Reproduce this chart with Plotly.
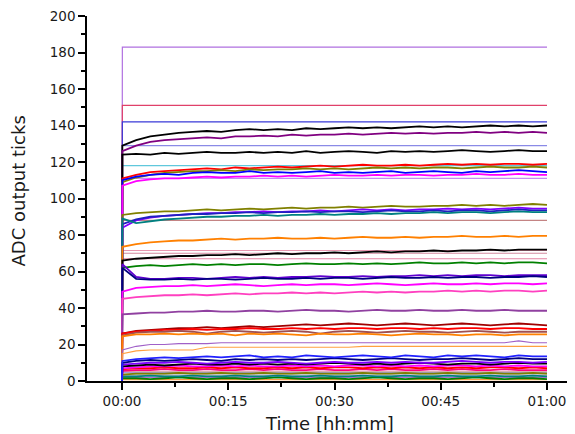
import plotly.graph_objects as go

# ---------------- data ----------------
# time in minutes after start (shared by the noisy series)
T = [0, 0.05] + list(range(2, 61, 2))
T_FLAT = [0, 0.05, 60]

# flat (constant) channels: ADC level
FLAT_LEVELS = [183, 151, 142, 129, 118, 111, 88, 71.5, 70, 67, 5, 4.6, 3.3, 2, 0.8]
FLAT_COLORS = ["#b070e0", "#e0406a", "#3a3ad8", "#8a8ae6", "#60c8dc", "#c48cf4",
               "#c48484", "#e896b0", "#d48aa0", "#e484a4", "#c89898", "#a0a0d8",
               "#909090", "#b070d0", "#ff9a40"]

s_black_top = [0, 129,
               132, 134, 135, 136, 136.5, 137, 136.5, 137.5, 138, 137.5,
               138, 137.5, 138.5, 138, 138.5, 139, 138.5, 139, 138.5, 139,
               139.5, 139, 139.5, 139, 139.5, 140, 139.5, 140, 139.5, 140]
s_purple_top = [0, 126,
                129, 131, 132, 132.5, 133, 133.5, 133, 134, 134, 134.5,
                134, 135, 134.5, 135, 135, 135.5, 135, 135.5, 136, 135.5,
                136, 135.5, 136, 136, 136.5, 136, 136.5, 136, 136.5, 136]
s_black_125 = [0, 124,
               124.5, 124, 125, 124.5, 125, 125.5, 125, 125, 125.5, 125,
               125.5, 125, 126, 125, 125.5, 126, 125.5, 125, 126, 125.5,
               126, 125.5, 126, 126.5, 126, 125.5, 126, 126.5, 126, 126]
s_red_118 = [0, 111,
             113, 114.5, 115, 115.5, 116, 116.5, 116, 117, 116.5, 117,
             117.5, 117, 117.5, 118, 117.5, 118, 118.5, 118, 118, 118.5,
             118, 118.5, 119, 118.5, 119, 118.5, 119, 119, 118.5, 119]
s_olive_117 = [0, 109,
               111.5, 113, 114, 114.5, 115, 115, 115.5, 115, 116, 115.5,
               116, 116, 116.5, 116, 116.5, 116, 116.5, 117, 116.5, 117,
               116.5, 117, 117, 116.5, 117, 117.5, 117, 117, 117.5, 117]
s_blue_114 = [0, 110,
              112, 113, 113.5, 113, 114, 114.5, 114, 114, 115, 114,
              114.5, 114, 114.5, 115, 114, 114.5, 114, 114.5, 115, 114,
              114.5, 115, 114.5, 114, 115, 114.5, 115, 115.5, 115, 114.5]
s_magenta_112 = [0, 107,
                 109.5, 110.5, 111, 111, 111.5, 112, 111.5, 112, 112, 112.5,
                 112, 112.5, 112, 112.5, 113, 112.5, 112.5, 113, 112.5, 113,
                 113, 112.5, 113, 113, 113.5, 113, 113, 113.5, 113, 113]
s_olive_95 = [0, 91,
              92, 92.5, 93, 93, 93.5, 94, 93.5, 94, 94.5, 94,
              94.5, 95, 94.5, 95, 95, 95.5, 95, 95.5, 96, 95.5,
              95.5, 96, 96, 96.5, 96, 96.5, 96, 96.5, 97, 96.5]
s_violet_93 = [0, 84,
               88, 89.5, 90.5, 91, 91.5, 92, 92, 92.5, 92.5, 93,
               92.5, 93, 93, 93.5, 93, 93.5, 94, 93.5, 94, 93.5,
               94, 94, 94.5, 94, 94.5, 94, 94.5, 95, 94.5, 94.5]
s_blue_92 = [0, 86,
             88.5, 90, 90.5, 91, 91.5, 91.5, 92, 92, 92.5, 92,
             92.5, 92.5, 93, 92.5, 93, 93, 92.5, 93, 93.5, 93,
             93, 93.5, 93, 93.5, 93.5, 93, 93.5, 94, 93.5, 93.5]
s_teal_91 = [0, 89,
             86.5, 87.5, 88.5, 89, 89.5, 90, 90, 90.5, 90.5, 91,
             90.5, 91, 91, 91.5, 91, 91.5, 91.5, 92, 91.5, 92,
             92, 92.5, 92, 92.5, 92.5, 92, 92.5, 93, 92.5, 92.5]
s_orange_78 = [0, 73.5,
               75, 76, 76.5, 77, 77, 77.5, 78, 77.5, 78, 78,
               78.5, 78, 78, 78.5, 78, 78.5, 79, 78.5, 78.5, 79,
               78.5, 79, 79, 79.5, 79, 79, 79.5, 79, 79.5, 79.5]
s_black_70 = [0, 66,
              67, 67.5, 68, 68.5, 68.5, 69, 69, 69.5, 69, 69.5,
              70, 69.5, 70, 70, 70.5, 70, 70.5, 71, 70.5, 71,
              71, 71.5, 71, 71.5, 71.5, 72, 71.5, 72, 72, 72]
s_green_64 = [0, 62,
              63, 63.5, 63, 63.5, 64, 63.5, 64, 63.5, 64, 64,
              63.5, 64, 64.5, 64, 64, 64.5, 64, 64.5, 64, 64.5,
              65, 64.5, 64.5, 65, 64.5, 65, 64.5, 65, 65, 64.5]
s_violet_57 = [0, 64,
               57, 56, 56, 56.5, 56.5, 56, 56.5, 57, 56.5, 57,
               56.5, 57, 57, 57.5, 57, 57, 57.5, 57, 57.5, 57.5,
               58, 57.5, 58, 57.5, 58, 58, 57.5, 58, 58, 58]
s_navy_56 = [0, 62,
             56, 55.5, 55.5, 56, 55.5, 56, 56, 55.5, 56, 56.5,
             56, 56, 56.5, 56, 56.5, 56.5, 56, 56.5, 57, 56.5,
             56.5, 57, 56.5, 57, 57, 56.5, 57, 57, 57.5, 57]
s_magenta_53 = [0, 49,
                51, 51.5, 52, 52, 52.5, 52, 52.5, 53, 52.5, 52,
                52.5, 53, 52.5, 53, 53, 52.5, 53, 53.5, 53, 52.5,
                53, 53.5, 53, 53, 53.5, 53, 53.5, 53.5, 53, 53.5]
s_pink_48 = [0, 45,
             46, 46.5, 47, 47, 47.5, 47, 47.5, 48, 47.5, 48,
             48, 48.5, 48, 48.5, 48, 48.5, 49, 48.5, 49, 48.5,
             49, 49, 49.5, 49, 49.5, 49, 49.5, 49.5, 49, 49.5]
s_purple_38 = [0, 36.5,
               37, 37.5, 37.5, 38, 38, 38.5, 38, 38, 38.5, 38.5,
               38, 38.5, 39, 38.5, 38.5, 38, 38.5, 39, 38.5, 38.5,
               39, 38.5, 38.5, 39, 38.5, 38.5, 39, 38.5, 38.5, 38.5]
s_wine_30 = [0, 26,
             27.5, 28, 28.5, 29, 29, 29.5, 29, 29.5, 30, 29.5,
             30, 30.5, 31, 30.5, 31, 31.5, 31, 30.5, 31, 31.5,
             31, 30.5, 31, 31.5, 31, 30.5, 31, 31.5, 31, 30.5]
s_red_28 = [0, 26,
            27, 27.5, 28, 28, 28.5, 28, 28.5, 28.5, 29, 28.5,
            28.5, 29, 28.5, 29, 28.5, 29, 29, 28.5, 29, 29,
            28.5, 29, 28.5, 29, 29, 28.5, 29, 29, 28.5, 28.5]
s_brown_27 = [0, 25,
              26.5, 27, 27, 27.5, 27, 26, 27, 27.5, 27, 26.5,
              27, 27.5, 27, 26, 27, 27.5, 27, 26.5, 27, 27.5,
              27, 27, 26.5, 27, 27.5, 27, 26.5, 27, 27, 27]
s_orange_25 = [0, 24.5,
               25.5, 25.5, 26, 25.5, 26, 25.5, 26, 25, 26, 25.5,
               26, 25.5, 25, 26, 25.5, 25.5, 26, 25.5, 25, 25.5,
               26, 25.5, 25.5, 25, 25.5, 25.5, 25, 25.5, 25.5, 25.5]
s_lavender_21 = [0, 17,
                 19, 20, 20, 20.5, 20.5, 20.5, 21, 21, 21, 21,
                 21, 21, 21, 21, 21, 21, 21, 21, 21, 21,
                 21, 21, 21, 21, 21, 21, 21, 22, 21, 21]
s_orange_19 = [0, 15,
               16.5, 17, 17, 17, 17, 18.5, 18.5, 18.5, 18.5, 18.5,
               18.5, 18.5, 18.5, 18.5, 18.5, 18.5, 19, 19, 19, 19,
               19, 19, 19, 19, 19, 19, 19, 19, 19, 19]
s_blue_13 = [0, 11,
             12, 12.5, 13, 12.5, 13, 13.5, 13, 13.5, 14, 13,
             13.5, 13, 14, 13.5, 13, 13.5, 14, 13.5, 13, 14,
             13.5, 13, 14, 13.5, 14, 13.5, 13, 14, 13.5, 13.5]
s_navy_12 = [0, 10,
             11, 11.5, 11, 11.5, 12, 11.5, 11, 12, 11.5, 12,
             11.5, 12, 11.5, 12, 12.5, 12, 11.5, 12, 12.5, 12,
             11.5, 12, 12, 12.5, 12, 11.5, 12, 12.5, 12, 12]
s_violet_10 = [0, 9,
               9.5, 10, 10, 10.5, 10, 9.5, 10, 10.5, 10, 10,
               10.5, 10, 9.5, 10, 10.5, 10, 10, 10.5, 10, 10.5,
               10, 10, 10.5, 11, 10.5, 10, 10.5, 10.5, 10, 10.5]
s_black_9 = [0, 8,
             8.5, 9, 8.5, 9, 9.5, 9, 9, 9.5, 9, 9.5,
             9, 9.5, 9, 9.5, 10, 9.5, 9, 9.5, 9, 9.5,
             10, 9.5, 9, 9.5, 9.5, 9, 9.5, 10, 9.5, 9.5]
s_magenta_8 = [0, 7,
               7.5, 8, 8, 8.5, 8, 8, 8.5, 8, 8.5, 8,
               8, 8.5, 8, 8.5, 8, 8.5, 8.5, 8, 8.5, 8,
               8.5, 8, 8.5, 8.5, 8, 8.5, 8, 8.5, 8, 8]
s_red_7 = [0, 6.5,
           7, 7, 7.5, 7, 7, 7.5, 7, 7.5, 7, 7,
           7.5, 7, 7.5, 7, 7.5, 7.5, 7, 7.5, 7, 7.5,
           7, 7.5, 7, 7.5, 7, 7.5, 7.5, 7, 7.5, 7]
s_pink_6 = [0, 5.5,
            6, 6, 6.5, 6, 6, 6.5, 6, 6, 6.5, 6,
            6.5, 6, 6, 6.5, 6, 6, 6.5, 6, 6.5, 6,
            6, 6.5, 6, 6.5, 6, 6, 6.5, 6, 6, 6]
s_olive_4 = [0, 3.5,
             4, 4, 4, 4.5, 4, 4, 4.5, 4, 4, 4.5,
             4, 4, 4.5, 4, 4, 4, 4.5, 4, 4, 4.5,
             4, 4, 4.5, 4, 4, 4.5, 4, 4, 4.5, 4]
s_teal_3 = [0, 2.5,
            2.5, 3, 2.5, 2.5, 3, 2.5, 2.5, 3, 2.5, 2.5,
            3, 2.5, 2.5, 3, 2.5, 2.5, 3, 2.5, 2.5, 3,
            2.5, 2.5, 3, 2.5, 2.5, 3, 2.5, 2.5, 3, 2.5]
s_green_1 = [0, 1.5,
             1.5, 1, 1.5, 2, 1.5, 1, 1.5, 1.5, 1, 1.5,
             2, 1.5, 1, 1.5, 1.5, 1, 1.5, 2, 1.5, 1,
             1.5, 1.5, 1, 1.5, 2, 1.5, 1, 1.5, 1.5, 1]

NOISY = [s_black_top, s_purple_top, s_black_125, s_red_118, s_olive_117, s_blue_114,
         s_magenta_112, s_olive_95, s_violet_93, s_blue_92, s_teal_91, s_orange_78,
         s_black_70, s_green_64, s_violet_57, s_navy_56, s_magenta_53, s_pink_48,
         s_purple_38, s_wine_30, s_red_28, s_brown_27, s_orange_25, s_lavender_21,
         s_orange_19, s_green_1, s_teal_3, s_olive_4, s_pink_6, s_red_7, s_magenta_8,
         s_black_9, s_violet_10, s_navy_12, s_blue_13]
NOISY_COLORS = ["#000000", "#800080", "#000000", "#ff0000", "#808000", "#0000ff",
                "#ff00ff", "#808000", "#8000ff", "#2020c0", "#008080", "#ff8000",
                "#000000", "#008000", "#6000d0", "#000080", "#ff00ff", "#ff40c0",
                "#9040a0", "#a00000", "#ff0000", "#a05050", "#ff8000", "#a060c8",
                "#ffa040", "#008000", "#008080", "#808000", "#ff0080", "#ff0000",
                "#ff00ff", "#000000", "#8000ff", "#000080", "#2020ff"]
SMOOTH = {id(s_lavender_21), id(s_orange_19)}

X_TICKS = [0, 15, 30, 45, 60]
X_TICKTEXT = ["00:00", "00:15", "00:30", "00:45", "01:00"]
X_MINOR = [7.5, 22.5, 37.5, 52.5]
Y_TICKS = list(range(0, 201, 20))
X_TITLE = "Time [hh:mm]"
Y_TITLE = "ADC output ticks"

# ---------------- figure ----------------
fig = go.Figure()
for lvl, col in zip(FLAT_LEVELS, FLAT_COLORS):
    fig.add_trace(go.Scatter(x=T_FLAT, y=[0, lvl, lvl], mode="lines",
                             line=dict(color=col, width=1.2), hoverinfo="skip"))
for s, col in zip(NOISY, NOISY_COLORS):
    w = 1.1 if id(s) in SMOOTH else 1.8
    fig.add_trace(go.Scatter(x=T, y=s, mode="lines",
                             line=dict(color=col, width=w), hoverinfo="skip"))

axis_font = dict(family="DejaVu Sans", size=13.5, color="#1a1a1a")
title_font = dict(family="DejaVu Sans", size=18, color="#1a1a1a")
fig.update_layout(
    width=575, height=434,
    margin=dict(l=79, r=10, t=8, b=61, autoexpand=False),
    paper_bgcolor="white", plot_bgcolor="white",
    showlegend=False,
    font=dict(family="DejaVu Sans", color="#1a1a1a"),
    annotations=[dict(text=Y_TITLE, textangle=-90, xref="paper", yref="paper",
                      x=0, y=0.5, xanchor="center", yanchor="middle",
                      xshift=-69, yshift=7, showarrow=False, font=title_font)],
)
fig.update_xaxes(
    range=[-4.94, 63.67], showgrid=False, zeroline=False,
    showline=True, linecolor="black", linewidth=1.5,
    tickmode="array", tickvals=X_TICKS, ticktext=X_TICKTEXT,
    ticks="outside", ticklen=7, tickwidth=1.5, tickcolor="black",
    tickfont=axis_font, ticklabeloverflow="allow",
    minor=dict(tickmode="array", tickvals=X_MINOR, ticks="outside",
               ticklen=4, tickwidth=1.5, tickcolor="black"),
    title=dict(text=X_TITLE, font=title_font, standoff=9),
    automargin=False,
)
fig.update_yaxes(
    range=[0, 200], showgrid=False, zeroline=False,
    showline=True, linecolor="black", linewidth=1.5,
    tickmode="array", tickvals=Y_TICKS,
    ticks="outside", ticklen=7, tickwidth=1.5, tickcolor="black",
    tickfont=axis_font, ticklabeloverflow="allow",
    minor=dict(dtick=10, tick0=0, ticks="outside", ticklen=4, tickwidth=1.5,
               tickcolor="black"),
    automargin=False,
)

fig.write_html("out.html")
